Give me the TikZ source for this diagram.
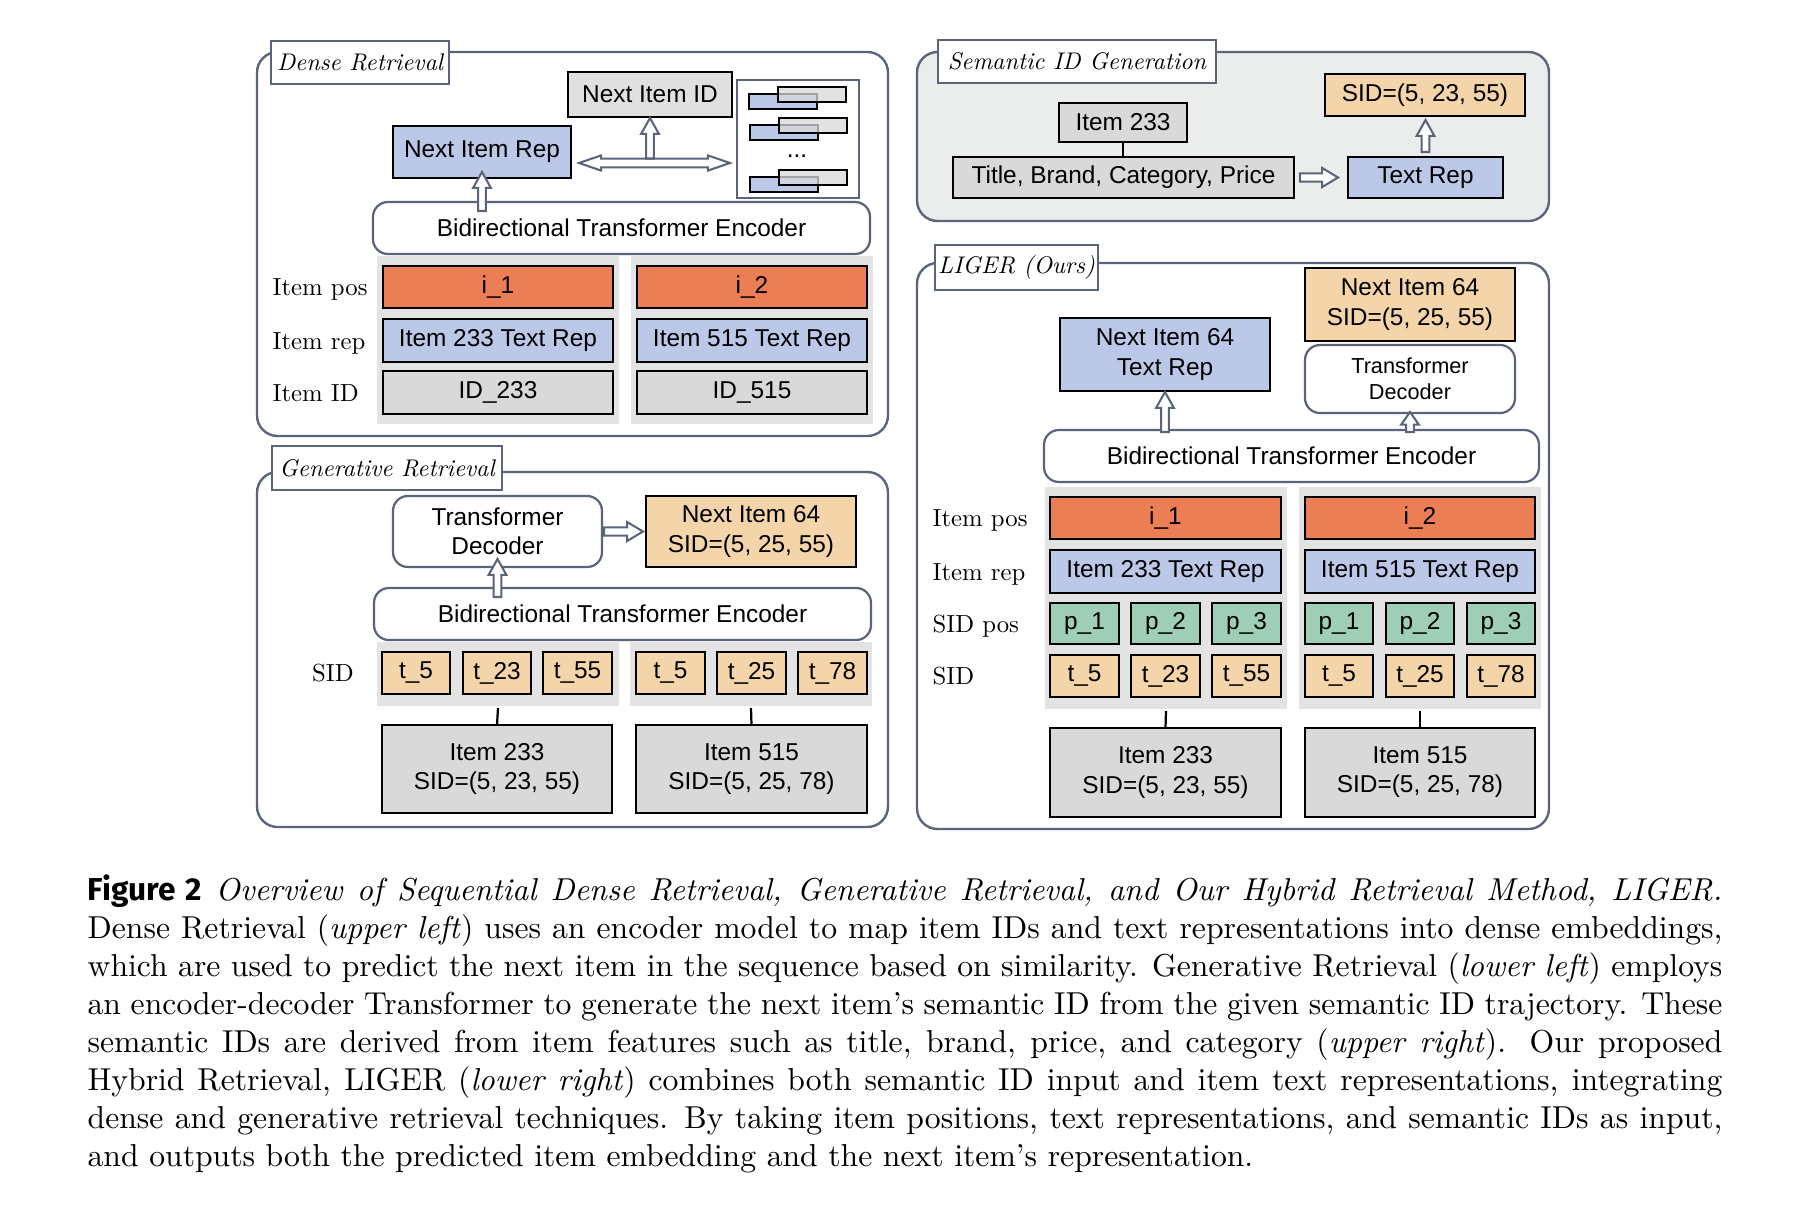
\documentclass[tikz,border=0pt]{standalone}
\usepackage{fontspec}
\newfontfamily\dsans{Liberation Sans}
\newfontfamily\capsans{Fira Sans}
\usetikzlibrary{calc}
\definecolor{cOrange}{HTML}{EC7E55}
\definecolor{cBlue}{HTML}{BCC8E7}
\definecolor{cPeach}{HTML}{F4D5AA}
\definecolor{cGreen}{HTML}{9FCEB7}
\definecolor{cGray}{HTML}{D9D9D9}
\definecolor{cGrayL}{HTML}{E0E0E0}
\definecolor{cPanel}{HTML}{E3E3E3}
\definecolor{cSlate}{HTML}{5B6478}
\definecolor{cSidBg}{HTML}{EBECEC}
\newcommand\dfont{\dsans\fontsize{7.7}{9.2}\selectfont}
\newcommand\sfont{\dsans\fontsize{6.85}{8.3}\selectfont}
\newcommand\ltxt[1]{\scalebox{0.78}{\fontsize{10}{12}\selectfont #1}}
\newcommand\ttxt[1]{\scalebox{0.76}{\fontsize{10}{12}\selectfont\itshape #1}}
\newlength\capw
\setlength\capw{515.8pt}
\newcommand\mybx[7]{%
  \pgfmathsetmacro\bxw{(#5-#3)*0.3155}%
  \pgfmathsetmacro\bxh{(#6-#4)*0.3155}%
  \node[#1, minimum width=\bxw pt, minimum height=\bxh pt] (#2) at ({(#3+#5)/2},{(#4+#6)/2}) {#7};}
\newcommand\hupar[3][5pt]{%
  \path[harrow] let \p1=(#2), \p2=(#3) in
  (\x1-1.2pt,\y1) -- (\x1-1.2pt,\y2-#1) -- (\x1-2.8pt,\y2-#1) -- (\x1,\y2)
  -- (\x1+2.8pt,\y2-#1) -- (\x1+1.2pt,\y2-#1) -- (\x1+1.2pt,\y1) -- cycle;}
\newcommand\hrtar[3][5pt]{%
  \path[harrow] let \p1=(#2), \p2=(#3) in
  (\x1,\y1+1.3pt) -- (\x2-#1,\y1+1.3pt) -- (\x2-#1,\y1+3pt) -- (\x2,\y1)
  -- (\x2-#1,\y1-3pt) -- (\x2-#1,\y1-1.3pt) -- (\x1,\y1-1.3pt) -- cycle;}
\newcommand\hdbar[2]{%
  \path[harrow] let \p1=(#1), \p2=(#2) in
  (\x1,\y1) -- (\x1+7pt,\y1+2.4pt) -- (\x1+7pt,\y1+1.4pt) -- (\x2-7pt,\y1+1.4pt)
  -- (\x2-7pt,\y1+2.4pt) -- (\x2,\y1) -- (\x2-7pt,\y1-2.4pt) -- (\x2-7pt,\y1-1.4pt)
  -- (\x1+7pt,\y1-1.4pt) -- (\x1+7pt,\y1-2.4pt) -- cycle;}
\tikzset{
  base/.style={inner sep=0pt, outer sep=0pt, font=\dfont, align=center},
  sq/.style={base, draw=black, line width=0.8pt},
  posb/.style={sq, fill=cOrange},
  repb/.style={sq, fill=cBlue},
  idb/.style={sq, fill=cGray},
  sidb/.style={sq, fill=cPeach},
  pb/.style={sq, fill=cGreen},
  rnd/.style={base, draw=cSlate, line width=0.7pt, rounded corners=4.7pt, fill=white},
  panel/.style={inner sep=0pt, outer sep=0pt, fill=cPanel},
  frame/.style={inner sep=0pt, outer sep=0pt, draw=cSlate, line width=0.75pt, rounded corners=6.5pt},
  ttl/.style={inner sep=0pt, outer sep=0pt, draw=cSlate, line width=0.75pt, fill=white},
  embf/.style={inner sep=0pt, outer sep=0pt, draw=cSlate, line width=0.7pt, fill=white},
  lbl/.style={anchor=base west, inner sep=0pt},
  harrow/.style={draw=cSlate, line width=0.65pt, fill=white, line join=miter},
  conn/.style={draw=black, line width=0.7pt},
  bar/.style={draw=black, line width=0.65pt}
}
\begin{document}
\begin{tikzpicture}[x=0.3155pt, y=-0.3155pt]
\fill[white] (0,0) rectangle (1818,1206);
\useasboundingbox (0,0) rectangle (1818,1206);

% ---------------- Dense Retrieval ----------------
\mybx{frame}{fdense}{257}{52}{888}{436}{}
\mybx{ttl}{tdense}{271}{41}{449}{84}{\ttxt{Dense Retrieval}}
\mybx{sq, fill=cGrayL}{nid}{568}{72}{732}{117}{Next Item ID}
\mybx{repb}{nrep}{393}{126}{571}{178}{Next Item Rep}
\mybx{embf}{emb}{737}{80}{859}{198}{}
\foreach \dx/\dy in {0/0, 1/31, 1/83}{
  \draw[bar, fill=cBlue] (749+\dx,94+\dy) rectangle (817+\dx,109+\dy);
  \draw[bar, fill=cGray, fill opacity=0.75] (778+\dx,87+\dy) rectangle (846+\dx,102+\dy);
}
\node[font=\dfont, anchor=base, inner sep=0pt] (edots) at (797,157) {...};
\mybx{rnd}{enc}{373}{202}{870}{254}{Bidirectional Transformer Encoder}
\mybx{panel}{dp1}{377}{256}{619}{424}{}
\mybx{panel}{dp2}{631}{256}{873}{424}{}
\mybx{posb}{di1}{383}{266}{613}{308}{i\_1}
\mybx{repb}{dr1}{383}{319}{613}{362}{Item 233 Text Rep}
\mybx{idb}{dd1}{383}{371}{613}{414}{ID\_233}
\mybx{posb}{di2}{637}{266}{867}{308}{i\_2}
\mybx{repb}{dr2}{637}{319}{867}{362}{Item 515 Text Rep}
\mybx{idb}{dd2}{637}{371}{867}{414}{ID\_515}
\node[lbl] (dlpos) at (272,295) {\ltxt{Item pos}};
\node[lbl] (dlrep) at (272,349) {\ltxt{Item rep}};
\node[lbl] (dlid) at (272,401) {\ltxt{Item ID}};
\hupar{$(nrep.south |- enc.north)+(0,9)$}{$(nrep.south)+(0,-6)$}
\coordinate (dl) at ($(nrep.east)+(8,11)$);
\coordinate (dr) at ($(emb.west)+(-7,24)$);
\hdbar{dl}{dr}
\hupar{$(nid.south |- dl)+(0,-4.5)$}{$(nid.south)+(0,1)$}

% ---------------- Generative Retrieval ----------------
\mybx{frame}{fgen}{257}{472}{888}{827}{}
\mybx{ttl}{tgen}{272}{446}{502}{490}{\ttxt{Generative Retrieval}}
\mybx{rnd}{gdec}{393}{496}{602}{567}{Transformer\\Decoder}
\mybx{sidb}{gnext}{646}{496}{856}{567}{Next Item 64\\SID=(5, 25, 55)}
\mybx{rnd}{genc}{374}{588}{871}{640}{Bidirectional Transformer Encoder}
\mybx{panel}{gp1}{377}{642}{619}{706}{}
\mybx{panel}{gp2}{630}{642}{872}{706}{}
\mybx{sidb}{gt11}{382}{652}{450}{694}{t\_5}
\mybx{sidb}{gt12}{463}{652}{531}{694}{t\_23}
\mybx{sidb}{gt13}{543}{652}{612}{694}{t\_55}
\mybx{sidb}{gt21}{636}{652}{705}{694}{t\_5}
\mybx{sidb}{gt22}{717}{652}{786}{694}{t\_25}
\mybx{sidb}{gt23}{798}{652}{867}{694}{t\_78}
\mybx{idb}{gi1}{382}{725}{612}{813}{Item 233\\SID=(5, 23, 55)}
\mybx{idb}{gi2}{636}{725}{867}{813}{Item 515\\SID=(5, 25, 78)}
\node[anchor=base, inner sep=0pt] (glsid) at (333,681) {\ltxt{SID}};
\draw[conn] ($(gp1.south)+(0,2)$) -- (gi1.north);
\draw[conn] ($(gp2.south)+(0,2)$) -- (gi2.north);
\hrtar{$(gdec.east)+(2,0)$}{$(gnext.west)+(-3,0)$}
\hupar{$(gdec.south |- genc.north)+(0,9)$}{$(gdec.south)+(0,-8)$}

% ---------------- Semantic ID Generation ----------------
\mybx{frame, fill=cSidBg}{fsid}{917}{52}{1549}{221}{}
\mybx{ttl}{tsid}{938}{40}{1216}{83}{\ttxt{Semantic ID Generation}}
\mybx{idb}{s233}{1059}{103}{1187}{142}{Item 233}
\mybx{idb}{tbcp}{953}{157}{1294}{198}{Title, Brand, Category, Price}
\mybx{repb}{trep}{1348}{157}{1503}{198}{Text Rep}
\mybx{sidb}{ssid}{1325}{74}{1525}{116}{SID=(5, 23, 55)}
\draw[conn] (s233.south) -- (s233.south |- tbcp.north);
\hrtar{$(tbcp.east)+(6,0)$}{$(trep.west)+(-10,0)$}
\hupar{$(trep.north)+(0,-5)$}{$(ssid.south)+(0,4)$}

% ---------------- LIGER ----------------
\mybx{frame}{flig}{917}{263}{1549}{829}{}
\mybx{ttl}{tlig}{935}{245}{1098}{290}{\ttxt{LIGER (Ours)}}
\mybx{repb}{lrep}{1060}{318}{1270}{391}{Next Item 64\\Text Rep}
\mybx{sidb}{lnext}{1305}{268}{1515}{341}{Next Item 64\\SID=(5, 25, 55)}
\mybx{rnd, font=\sfont}{ldec}{1305}{345}{1515}{413}{Transformer\\Decoder}
\mybx{rnd}{lenc}{1044}{430}{1539}{482}{Bidirectional Transformer Encoder}
\mybx{panel}{lp1}{1045}{487}{1287}{709}{}
\mybx{panel}{lp2}{1299}{487}{1541}{709}{}
\mybx{posb}{li1}{1050}{497}{1281}{539}{i\_1}
\mybx{repb}{lr1}{1050}{550}{1281}{593}{Item 233 Text Rep}
\mybx{pb}{lp11}{1050}{603}{1119}{644}{p\_1}
\mybx{pb}{lp12}{1131}{603}{1200}{644}{p\_2}
\mybx{pb}{lp13}{1212}{603}{1281}{644}{p\_3}
\mybx{sidb}{lt11}{1050}{655}{1119}{697}{t\_5}
\mybx{sidb}{lt12}{1131}{655}{1200}{697}{t\_23}
\mybx{sidb}{lt13}{1212}{655}{1281}{697}{t\_55}
\mybx{posb}{li2}{1305}{497}{1535}{539}{i\_2}
\mybx{repb}{lr2}{1305}{550}{1535}{593}{Item 515 Text Rep}
\mybx{pb}{lp21}{1305}{603}{1373}{644}{p\_1}
\mybx{pb}{lp22}{1386}{603}{1454}{644}{p\_2}
\mybx{pb}{lp23}{1467}{603}{1535}{644}{p\_3}
\mybx{sidb}{lt21}{1305}{655}{1373}{697}{t\_5}
\mybx{sidb}{lt22}{1386}{655}{1454}{697}{t\_25}
\mybx{sidb}{lt23}{1467}{655}{1535}{697}{t\_78}
\mybx{idb}{lit1}{1050}{728}{1281}{817}{Item 233\\SID=(5, 23, 55)}
\mybx{idb}{lit2}{1305}{728}{1535}{817}{Item 515\\SID=(5, 25, 78)}
\node[lbl] (llpos) at (932,526) {\ltxt{Item pos}};
\node[lbl] (llrep) at (932,580) {\ltxt{Item rep}};
\node[lbl] (llsp) at (932,632) {\ltxt{SID pos}};
\node[lbl] (llsid) at (932,684) {\ltxt{SID}};
\draw[conn] ($(lp1.south)+(0,2)$) -- (lit1.north);
\draw[conn] ($(lp2.south)+(0,2)$) -- (lit2.north);
\hupar{$(lrep.south |- lenc.north)+(0,2)$}{$(lrep.south)+(0,1)$}
\hupar[4pt]{$(ldec.south |- lenc.north)+(0,2)$}{$(ldec.south)+(0,-1)$}

% ---------------- Caption ----------------
\node[anchor=north west, inner sep=0pt, align=left, font=\fontsize{10}{12}\selectfont] (cap) at (87,873.4) {%
\makebox[\capw][s]{\strut{\capsans\bfseries Figure 2}\hspace{0.45em}\textit{Overview of Sequential Dense Retrieval, Generative Retrieval, and Our Hybrid Retrieval Method, LIGER.}}\\
\makebox[\capw][s]{Dense Retrieval (\textit{upper left}) uses an encoder model to map item IDs and text representations into dense embeddings,}\\
\makebox[\capw][s]{which are used to predict the next item in the sequence based on similarity. Generative Retrieval (\textit{lower left}) employs}\\
\makebox[\capw][s]{an encoder-decoder Transformer to generate the next item's semantic ID from the given semantic ID trajectory. These}\\
\makebox[\capw][s]{semantic IDs are derived from item features such as title, brand, price, and category (\textit{upper right}). Our proposed}\\
\makebox[\capw][s]{Hybrid Retrieval, LIGER (\textit{lower right}) combines both semantic ID input and item text representations, integrating}\\
\makebox[\capw][s]{dense and generative retrieval techniques. By taking item positions, text representations, and semantic IDs as input,}\\
and outputs both the predicted item embedding and the next item's representation.};
\end{tikzpicture}
\end{document}
